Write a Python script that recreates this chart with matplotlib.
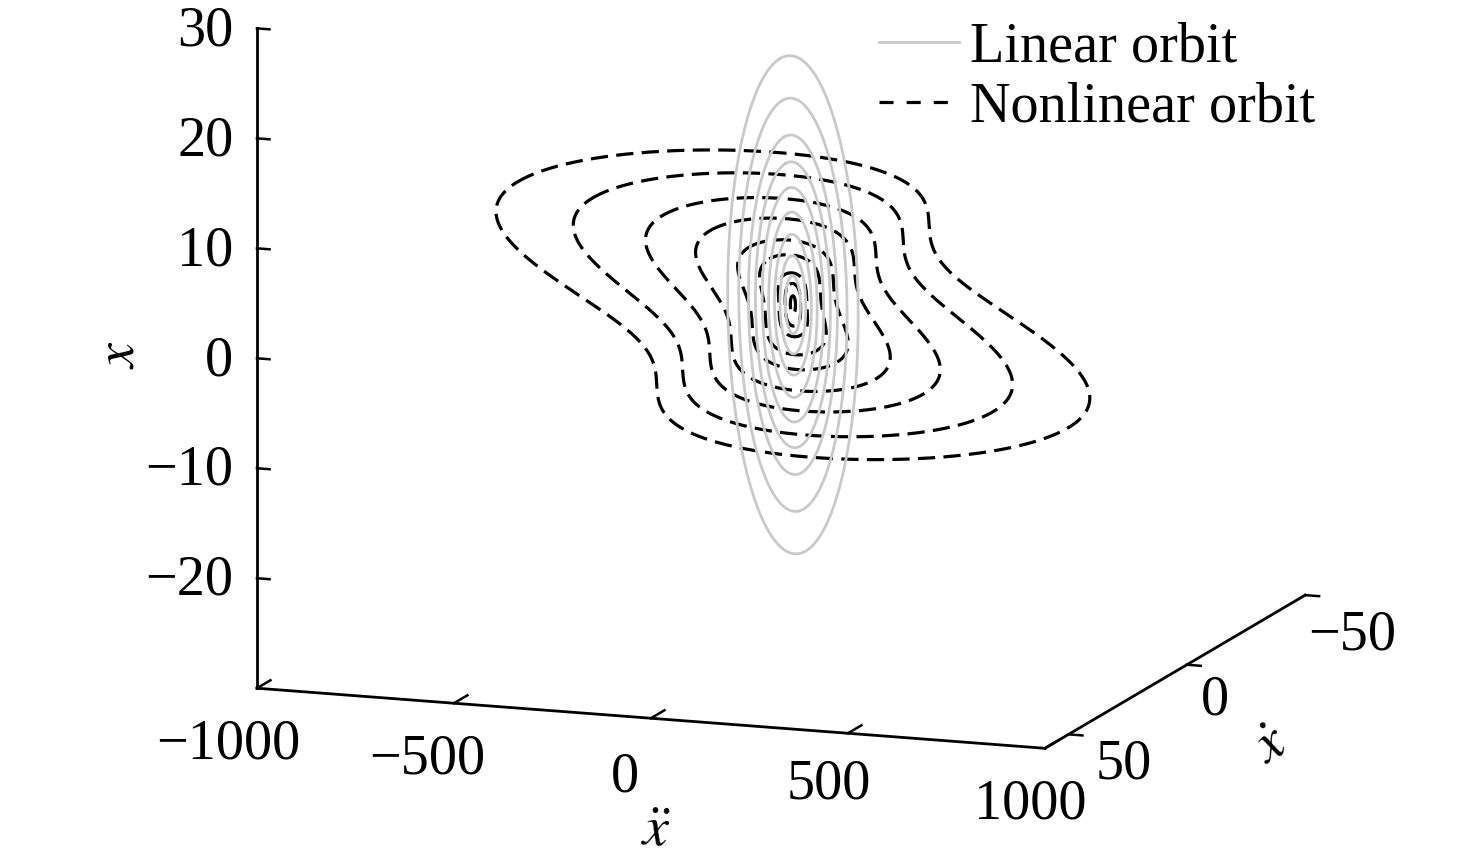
import numpy as np
import matplotlib
matplotlib.use("Agg")
import matplotlib.pyplot as plt
from matplotlib.lines import Line2D
from matplotlib.transforms import ScaledTranslation
from mpl_toolkits.mplot3d import proj3d

# ---------------- chart data ----------------
xddot_ticks = [-1000, -500, 0, 500, 1000]
xdot_ticks = [50, 0, -50]
x_ticks = [-20, -10, 0, 10, 20, 30]
xddot_limits = [-1000, 1000]
xdot_limits = [60, -50]          # front -> back
x_limits = [-30, 30]

# linear orbits: x'' = -w^2 x, amplitudes in x
linear_omega_sq = 1.47
linear_amplitudes = [22.3, 18.5, 15.2, 12.8, 10.5, 8.3, 6.3, 4.4, 2.6]

# nonlinear (hardening) orbits: x'' = -(k x + c x^3), amplitudes in x
nonlinear_k = 1.5
nonlinear_c = 0.85
nonlinear_amplitudes = [9.3, 8.35, 7.22, 6.18, 4.95, 4.0, 2.7, 1.85, 0.8]

legend_labels = ["Linear orbit", "Nonlinear orbit"]
label_xddot = r"$\ddot{x}$"
label_xdot = r"$\dot{x}$"
label_x = r"$x$"

# ---------------- style ----------------
plt.rcParams["font.family"] = ["Liberation Serif", "DejaVu Serif"]
plt.rcParams["mathtext.fontset"] = "stix"
try:
    plt.rcParams["axes3d.automargin"] = False
except KeyError:
    pass

FS = 40.5
W, H = 1476, 867
GRAY = "#c9c9c9"
DASH_LW = 2.3

fig = plt.figure(figsize=(W / 100, H / 100), dpi=100)
ax = fig.add_axes([0, 0, 1, 1], projection="3d", proj_type="ortho")
ax.computed_zorder = False
ax.view_init(elev=12.23, azim=-70.2)
ax.set_box_aspect((836.4, 767.6, 674.3))

phase = np.linspace(0, 2 * np.pi, 1441)

# nonlinear orbits (dashed black)
for A in nonlinear_amplitudes:
    xs = A * np.cos(phase)
    xdot = -A * np.sin(phase) * np.sqrt(nonlinear_k + 0.5 * nonlinear_c * (A ** 2 + xs ** 2))
    xddot = -(nonlinear_k * xs + nonlinear_c * xs ** 3)
    ax.plot(xddot, xdot, xs, color="black", lw=DASH_LW, ls=(0, (5.4, 2.6)), zorder=2)

# linear orbits (solid gray)
w = np.sqrt(linear_omega_sq)
for A in linear_amplitudes:
    xs = A * np.cos(phase)
    xdot = -w * A * np.sin(phase)
    xddot = -linear_omega_sq * xs
    ax.plot(xddot, xdot, xs, color=GRAY, lw=2.0, zorder=3)

ax.set_xlim(*xddot_limits)
ax.set_ylim(*xdot_limits)
ax.set_zlim(*x_limits)
ax.set_xticks(xddot_ticks)
ax.set_yticks(xdot_ticks)
ax.set_zticks(x_ticks)

ax.zaxis.set_ticks_position("upper")
ax.zaxis.set_label_position("upper")

ax.grid(False)
for axis in (ax.xaxis, ax.yaxis, ax.zaxis):
    axis.set_pane_color((1, 1, 1, 0))
    axis.pane.set_edgecolor((1, 1, 1, 0))
    axis.line.set_color("black")
    axis.line.set_linewidth(2.0)
    axis._axinfo["axisline"]["color"] = "black"
    axis._axinfo["axisline"]["linewidth"] = 2.0
    axis._axinfo["tick"]["linewidth"] = {True: 1.8, False: 1.0}
# tick lengths / directions (all pointing into the box)
ax.xaxis._axinfo["tick"]["inward_factor"] = 0.0
ax.xaxis._axinfo["tick"]["outward_factor"] = 0.65
ax.yaxis._axinfo["tick"]["inward_factor"] = 0.22
ax.yaxis._axinfo["tick"]["outward_factor"] = 0.0
ax.zaxis._axinfo["tick"]["inward_factor"] = 0.2
ax.zaxis._axinfo["tick"]["outward_factor"] = 0.0

ax.tick_params(axis="both", labelsize=FS, pad=6, colors="black")
ax.set_xlabel(label_xddot, fontsize=FS, labelpad=40)
ax.set_ylabel(label_xdot, fontsize=FS, labelpad=40)
ax.set_zlabel(label_x, fontsize=FS, labelpad=40)
ax.zaxis.set_rotate_label(True)


def shift_ticklabels(axis, offsets, ha=None):
    """offsets: list of (dx, dy) pixel nudges, one per tick (in tick order)."""
    orig = axis.get_major_ticks

    def patched(numticks=None):
        ticks = orig(numticks)
        for i, t in enumerate(ticks):
            dx, dy = offsets[min(i, len(offsets) - 1)]
            t.label1.set_transform(
                ax.transData + ScaledTranslation(dx / 100, dy / 100, fig.dpi_scale_trans))
            if ha is not None:
                t.label1.set_horizontalalignment(ha)
        return ticks

    axis.get_major_ticks = patched


def shift_label(axis, dx, dy):
    lab = axis.label
    orig_set = lab.set_position

    def set_position(xy):
        d = ax.transData.transform(xy)
        orig_set(tuple(ax.transData.inverted().transform((d[0] + dx, d[1] + dy))))

    lab.set_position = set_position


shift_ticklabels(ax.xaxis, [(-21, -7), (-19, -7), (-18, -10), (-12, -2), (-7, -7)])
shift_ticklabels(ax.yaxis, [(32, 17), (5, 11), (24, 7)])
shift_ticklabels(ax.zaxis, [(7, 26)], ha="right")
shift_label(ax.xaxis, 38, -10)
shift_label(ax.yaxis, -4, 17)
shift_label(ax.zaxis, -5, 15)

# ---------- place the 3D box so its corners land where the reference has them ----------
corners = [(-1000, 60, -30), (1000, 60, -30), (1000, -50, -30), (-1000, 60, 30)]
targets = np.array([(257, H - 688), (1045, H - 748), (1305, H - 596), (257, H - 28)], float)


def corner_pixels():
    fig.canvas.draw()
    M = ax.get_proj()
    pts = []
    for c in corners:
        X, Y, _ = proj3d.proj_transform(c[0], c[1], c[2], M)
        pts.append(ax.transData.transform((X, Y)))
    return np.array(pts)


for _ in range(3):
    q = corner_pixels()
    qm, pm = q.mean(0), targets.mean(0)
    s = np.sum((q - qm) * (targets - pm)) / np.sum((q - qm) ** 2)
    t = pm - s * qm
    bb = ax.get_position()
    S = bb.width * W
    c = np.array([(bb.x0 + bb.width / 2) * W, (bb.y0 + bb.height / 2) * H])
    S2 = S * s
    c2 = t + s * c
    ax.set_position([(c2[0] - S2 / 2) / W, (c2[1] - S2 / 2) / H, S2 / W, S2 / H])

handles = [Line2D([], [], color=GRAY, lw=2.0),
           Line2D([], [], color="black", lw=DASH_LW, ls=(0, (4.4, 4.1)))]
fig.legend(handles, legend_labels, loc="upper left", bbox_to_anchor=(879 / W, 1 - 22 / H),
           frameon=False, fontsize=FS, handlelength=1.42, handletextpad=0.2,
           labelspacing=0.13, borderpad=0, borderaxespad=0)

fig.savefig("out.png", dpi=100)
